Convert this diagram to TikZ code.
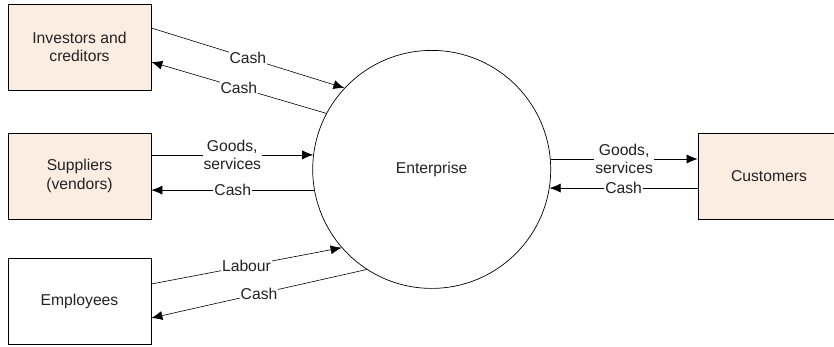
\documentclass[tikz,border=0pt]{standalone}
\usepackage{fontspec}
\setmainfont{Liberation Sans}
\usetikzlibrary{arrows.meta}
\definecolor{peach}{RGB}{252,237,226}
\definecolor{ink}{RGB}{34,34,34}
\begin{document}
\begin{tikzpicture}[x=1pt,y=-1pt,
		font=\fontsize{15.7}{18.5}\selectfont, text=ink,
		party/.style={draw, line width=0.7pt, minimum width=143pt, minimum height=86pt, align=center, inner sep=2pt},
		flow/.style={line width=0.6pt, -{Latex[length=11pt,width=9pt]}},
		lbl/.style={fill=white, inner sep=1pt, align=center}]
		\clip (0,0) rectangle (834,347);
		% Parties
		\node[party, fill=peach] (inv) at (79.5,47) {Investors and\\creditors};
		\node[party, fill=peach] (sup) at (79.5,176) {Suppliers\\(vendors)};
		\node[party] (emp) at (79.5,301.5) {Employees};
		\node[party, fill=peach, minimum width=142pt] (cust) at (769,176) {Customers};
		% Enterprise
		\node[draw, circle, line width=0.7pt, minimum size=238pt] (ent) at (431.7,169.4) {Enterprise};
		
		% Flows
		\draw[flow] ([yshift=19pt]inv.east) -- node[lbl] {Cash} (ent.137);
		\draw[flow] (ent.152) -- node[lbl] {Cash} ([yshift=-15pt]inv.east);
		\draw[flow] (sup.east |- ent.173) -- node[lbl] {Goods,\\services} (ent.173);
		\draw[flow] (ent.190) -- node[lbl] {Cash} (ent.190 -| sup.east);
		\draw[flow] ([yshift=17.5pt]emp.east) -- node[lbl] {Labour} (ent.221);
		\draw[flow] (ent.237) -- node[lbl] {Cash} ([yshift=-16.5pt]emp.east);
		\draw[flow] (ent.5) -- node[lbl] {Goods,\\services} (ent.5 -| cust.west);
		\draw[flow] (cust.west |- ent.351) -- node[lbl] {Cash} (ent.351);
	\end{tikzpicture}
\end{document}
